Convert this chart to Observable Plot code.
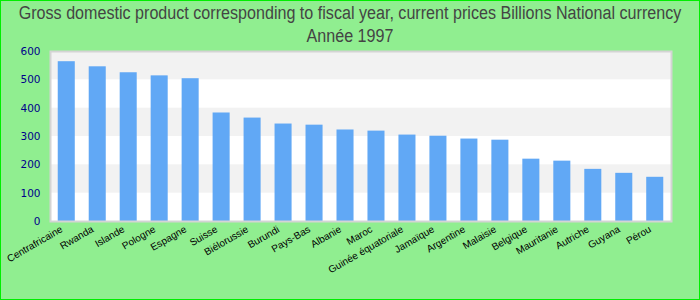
<!DOCTYPE html>
<html>
<head>
<meta charset="utf-8">
<script src="https://cdn.jsdelivr.net/npm/d3@7"></script>
<script src="https://cdn.jsdelivr.net/npm/@observablehq/plot@0.6"></script>
<style>
  html, body { margin: 0; padding: 0; }
  #wrap { width: 700px; height: 300px; box-sizing: border-box; border: 1px solid #00ee00; background: #90ee90; overflow: hidden; }
  #title { height: 44px; padding-top: 1px; font-family: "Liberation Sans", Arial, sans-serif; font-size: 18px; line-height: 23px; color: #444; white-space: nowrap; }
  #title div { width: max-content; margin-left: 50%; transform: translateX(-50%) scaleX(0.895); transform-origin: center; }
  #chart svg { display: block; }
</style>
</head>
<body>
<div id="wrap">
  <div id="title"><div>Gross domestic product corresponding to fiscal year, current prices Billions National currency</div><div>Année 1997</div></div>
  <div id="chart"></div>
</div>
<script>
const countries = ["Centrafricaine", "Rwanda", "Islande", "Pologne", "Espagne", "Suisse", "Biélorussie", "Burundi", "Pays-Bas", "Albanie", "Maroc", "Guinée équatoriale", "Jamaïque", "Argentine", "Malaisie", "Belgique", "Mauritanie", "Autriche", "Guyana", "Pérou"];
const gdp = [564, 546, 525, 514, 504, 383, 365, 344, 340, 323, 319, 305, 301, 291, 287, 220, 213, 184, 170, 156];
const yTicks = [0, 100, 200, 300, 400, 500, 600];

const data = countries.map((c, i) => ({country: c, value: gdp[i]}));
// alternating grey bands: 100-200, 300-400, 500-600
const greyBands = [];
for (let i = 1; i + 1 < yTicks.length; i += 2) greyBands.push({y1: yTicks[i], y2: yTicks[i + 1]});

const chart = Plot.plot({
  width: 698,
  height: 253,
  marginTop: 5,
  marginBottom: 78,
  marginLeft: 49,
  marginRight: 28,
  style: {background: "transparent", overflow: "visible"},
  x: {domain: countries, paddingInner: 0.45, paddingOuter: 0.25, round: false, label: null},
  y: {domain: [0, 600], label: null},
  marks: [
    Plot.frame({fill: "white", stroke: null}),
    Plot.rect(greyBands, {y1: "y1", y2: "y2", fill: "#f2f2f2"}),
    Plot.barY(data, {x: "country", y: "value", fill: "#61a8f5"}),
    Plot.frame({stroke: "#d4d4d4", strokeWidth: 2}),
    Plot.axisY({ticks: yTicks, tickSize: 0, tickPadding: 10, fill: "#00008b", fontSize: 10.5, fontFamily: "DejaVu Sans", label: null}),
    Plot.axisX({tickSize: 0, tickRotate: -30, fontSize: 10, fontFamily: "Liberation Sans", fill: "black", tickPadding: 8, dx: -5, dy: -1, label: null})
  ]
});
document.getElementById("chart").appendChild(chart);
</script>
</body>
</html>
